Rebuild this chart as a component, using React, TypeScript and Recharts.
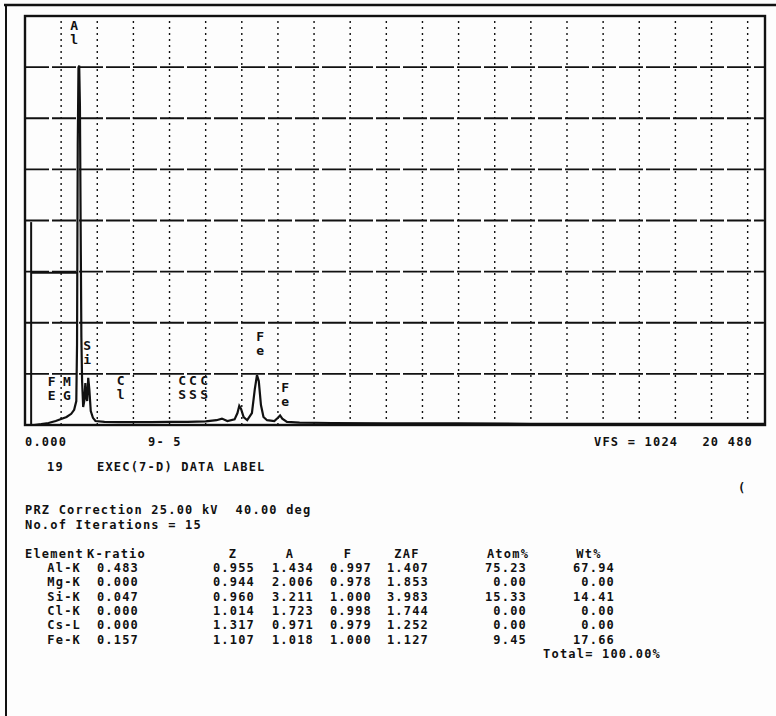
import React from "react"
import { LineChart, Line, XAxis, YAxis, ReferenceLine, ReferenceDot } from "recharts"

// spectrum (energy in keV, counts)
const energyKeV = [
  0.25, 0.45, 0.65, 0.85, 1.0, 1.15, 1.28, 1.36, 1.42, 1.44, 1.46, 1.48, 1.5, 1.52, 1.54, 1.56,
  1.58, 1.61, 1.64, 1.67, 1.69, 1.72, 1.75, 1.78, 1.82, 1.88, 1.95, 2.2, 2.6, 3.0, 3.5, 4.0, 4.5,
  5.0, 5.3, 5.45, 5.6, 5.8, 5.88, 5.93, 5.98, 6.05, 6.15, 6.28, 6.36, 6.42, 6.47, 6.53, 6.6, 6.7,
  6.9, 7.0, 7.06, 7.12, 7.25, 7.6, 8.5, 10, 12, 14, 16, 18, 20, 20.48,
]
const counts = [
  0, 2, 5, 10, 15, 20, 28, 38, 60, 200, 700, 895, 900, 800, 500, 220,
  110, 45, 60, 105, 70, 60, 118, 90, 35, 18, 10, 8, 7, 7, 7, 8, 8,
  9, 12, 16, 10, 14, 30, 48, 40, 20, 12, 30, 90, 125, 110, 50, 20, 12,
  10, 18, 24, 16, 8, 6, 5, 4, 4, 3, 3, 3, 3, 3,
]

const gridKeV = [1, 2, 3, 4, 5, 6, 7, 8, 9, 10, 11, 12, 13, 14, 15, 16, 17, 18, 19, 20]
const gridCounts = [128, 256, 384, 512, 640, 768, 896]

const labelNames = ["FE", "MG", "Al", "Si", "Cl", "CS", "CS", "CS", "Fe", "Fe"]
const labelKeV = [0.74, 1.16, 1.36, 1.72, 2.65, 4.35, 4.65, 4.96, 6.51, 7.2]
const labelCounts = [110, 110, 1002, 200, 113, 113, 113, 113, 223, 95]

// window marker drawn left of the Al peak
const markerKeV = 0.17
const markerTop = 508
const markerLevel = 381
const markerEnd = 1.44

const headers = ["Element", "K-ratio", "Z", "A", "F", "ZAF", "Atom%", "Wt%"]
const elements = ["Al-K", "Mg-K", "Si-K", "Cl-K", "Cs-L", "Fe-K"]
const kRatio = ["0.483", "0.000", "0.047", "0.000", "0.000", "0.157"]
const zCol = ["0.955", "0.944", "0.960", "1.014", "1.317", "1.107"]
const aCol = ["1.434", "2.006", "3.211", "1.723", "0.971", "1.018"]
const fCol = ["0.997", "0.978", "1.000", "0.998", "0.979", "1.000"]
const zafCol = ["1.407", "1.853", "3.983", "1.744", "1.252", "1.127"]
const atomPct = ["75.23", "0.00", "15.33", "0.00", "0.00", "9.45"]
const wtPct = ["67.94", "0.00", "14.41", "0.00", "0.00", "17.66"]

const spectrum = energyKeV.map((e, i) => ({ e, c: counts[i] }))

const ink = "#111"
const mono = "'DejaVu Sans Mono', 'Liberation Mono', monospace"

function StackedLabel(props: any) {
  const { cx, cy, text } = props
  if (cx == null || cy == null) return null
  return (
    <g>
      {text.split("").map((ch: string, i: number) => (
        <text
          key={i}
          x={cx}
          y={cy + i * 14 + 5}
          textAnchor="middle"
          fontFamily={mono}
          fontSize={13}
          fontWeight={700}
          fill={ink}
        >
          {ch}
        </text>
      ))}
    </g>
  )
}

// column right edges for the table values
const colEnds = [81, 139, 255, 314, 372, 429, 527, 615]
const headerX = [25, 87, 233, 290, 348, 407, 508, 589]
const rowY = [572, 586, 601, 615, 629, 644]

export default function App() {
  const cols = [elements, kRatio, zCol, aCol, fCol, zafCol, atomPct, wtPct]
  const txt = { whiteSpace: "pre" as const, letterSpacing: "1.2px" }
  return (
    <div style={{ position: "absolute", left: 0, top: 0, width: 776, height: 716, background: "#fdfdfd" }}>
      <LineChart
        width={776}
        height={440}
        data={spectrum}
        margin={{ top: 16, right: 11, bottom: 15, left: 25 }}
      >
        <XAxis dataKey="e" type="number" domain={[0, 20.48]} hide allowDataOverflow />
        <YAxis type="number" domain={[0, 1024]} hide allowDataOverflow />
        {gridCounts.map((v) => (
          <ReferenceLine key={"h" + v} y={v} stroke={ink} strokeWidth={1.8} strokeDasharray="24 3" />
        ))}
        {gridKeV.map((v) => (
          <ReferenceLine key={"v" + v} x={v} stroke={ink} strokeWidth={1.4} strokeDasharray="2 4" />
        ))}
        <ReferenceLine
          segment={[{ x: markerKeV, y: 0 }, { x: markerKeV, y: markerTop }]}
          stroke={ink}
          strokeWidth={2}
        />
        <ReferenceLine
          segment={[{ x: markerKeV, y: markerLevel }, { x: markerEnd, y: markerLevel }]}
          stroke={ink}
          strokeWidth={2}
        />
        {labelNames.map((n, i) => (
          <ReferenceDot
            key={"l" + i}
            x={labelKeV[i]}
            y={labelCounts[i]}
            r={0}
            shape={(p: any) => <StackedLabel {...p} text={n} />}
          />
        ))}
        <Line
          dataKey="c"
          type="linear"
          stroke={ink}
          strokeWidth={2.2}
          dot={false}
          isAnimationActive={false}
        />
      </LineChart>
      <svg
        width={776}
        height={716}
        style={{ position: "absolute", left: 0, top: 0, pointerEvents: "none" }}
        fontFamily={mono}
        fontSize={12}
        fontWeight={600}
        fill={ink}
      >
        <line x1={4} y1={5} x2={776} y2={5} stroke={ink} strokeWidth={2.5} />
        <line x1={6} y1={4} x2={6} y2={716} stroke={ink} strokeWidth={2} />
        <rect x={25} y={16} width={740} height={409} fill="none" stroke={ink} strokeWidth={2.4} />

        <text style={txt} x={25} y={446}>0.000</text>
        <text style={txt} x={148} y={446}>9- 5</text>
        <text style={txt} x={594} y={446}>VFS = 1024</text>
        <text style={txt} x={753} y={446} textAnchor="end">20 480</text>
        <text style={txt} x={47} y={471}>19</text>
        <text style={txt} x={97} y={471}>EXEC(7-D) DATA LABEL</text>
        <text style={txt} x={738} y={492}>(</text>
        <text style={txt} x={25} y={514}>PRZ Correction 25.00 kV  40.00 deg</text>
        <text style={txt} x={25} y={529}>No.of Iterations = 15</text>

        {headers.map((h, i) => (
          <text style={txt} key={h} x={headerX[i]} y={558} textAnchor={i < 2 ? "start" : "middle"}>
            {h}
          </text>
        ))}
        {cols.map((col, ci) =>
          col.map((v, ri) => (
            <text style={txt} key={ci + "-" + ri} x={colEnds[ci]} y={rowY[ri]} textAnchor="end">
              {v}
            </text>
          ))
        )}
        <text style={txt} x={661} y={658} textAnchor="end">Total= 100.00%</text>
      </svg>
    </div>
  )
}
